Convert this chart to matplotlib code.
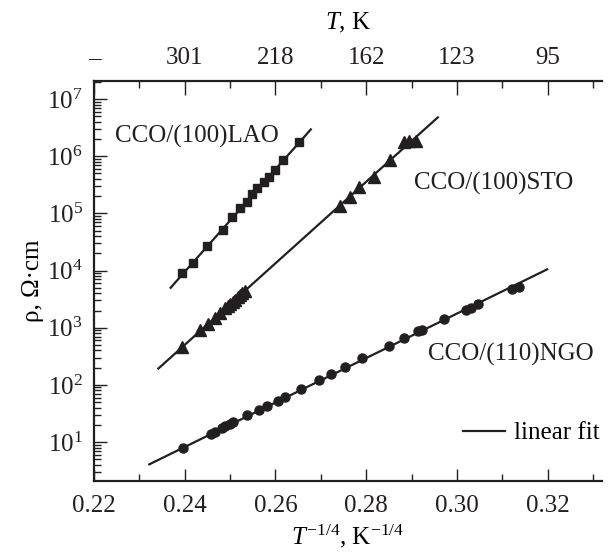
import numpy as np
import matplotlib
matplotlib.use("Agg")
import matplotlib.pyplot as plt
from matplotlib.lines import Line2D
from matplotlib.ticker import LogLocator, FixedLocator, NullFormatter

plt.rcParams['font.family'] = ['Liberation Serif', 'DejaVu Serif']
plt.rcParams['mathtext.fontset'] = 'custom'
plt.rcParams['mathtext.rm'] = 'Liberation Serif'
plt.rcParams['mathtext.it'] = 'Liberation Serif:italic'

INK = '#231f20'

# CCO/(100)LAO (squares)
lao_x = [0.2395, 0.2419, 0.2450, 0.2485, 0.2505, 0.2522, 0.2537, 0.2548,
         0.2559, 0.2574, 0.2585, 0.2598, 0.2616, 0.2652]
lao_rho = [8.9e3, 1.35e4, 2.7e4, 5.1e4, 8.5e4, 1.22e5, 1.61e5, 2.18e5,
           2.74e5, 3.58e5, 4.41e5, 5.73e5, 8.7e5, 1.75e6]
lao_fit_x = [0.2369, 0.2678]
lao_fit_rho = [5.0e3, 2.95e6]

# CCO/(100)STO (triangles)
sto_x = [0.2395, 0.2434, 0.2452, 0.2467, 0.2478, 0.2489, 0.2495, 0.2500,
         0.2506, 0.2511, 0.2517, 0.2522, 0.2527, 0.2532,
         0.2743, 0.2764, 0.2784, 0.2817, 0.2853, 0.2884, 0.2895, 0.2909]
sto_rho = [469, 929, 1183, 1507, 1806, 2183, 2395, 2596,
           2812, 3110, 3443, 3805, 4125, 4470,
           1.34e5, 1.97e5, 2.89e5, 4.38e5, 8.6e5, 1.77e6, 1.84e6, 1.88e6]
sto_fit_x = [0.2342, 0.2958]
sto_fit_rho = [193, 4.79e6]

# CCO/(110)NGO (circles)
ngo_x = [0.2396, 0.2459, 0.2466, 0.2482, 0.2488, 0.2500, 0.2506, 0.2537,
         0.2563, 0.2581, 0.2605, 0.2622, 0.2657, 0.2697, 0.2723, 0.2753,
         0.2791, 0.2851, 0.2884, 0.2915, 0.2922, 0.2971, 0.3021, 0.3030,
         0.3046, 0.3122, 0.3137]
ngo_rho = [7.8, 14.1, 15.0, 17.9, 19.1, 21.1, 22.1, 29.3,
           36.3, 43.5, 52.8, 62.5, 83.6, 122, 155, 203,
           298, 484, 668, 875, 929, 1402, 2080, 2254,
           2596, 4690, 5080]
ngo_fit_x = [0.2322, 0.3199]
ngo_fit_rho = [4.07, 1.05e4]

x_ticks = [0.22, 0.24, 0.26, 0.28, 0.30, 0.32]
x_labels = ['0.22', '0.24', '0.26', '0.28', '0.30', '0.32']
top_labels = ['\u2013', '301', '218', '162', '123', '95']

fig = plt.figure(figsize=(6.1, 5.52), dpi=100)
ax = fig.add_axes([0.154, 0.1286, 0.833, 0.7246])

lw = 1.6
ax.plot(lao_fit_x, lao_fit_rho, color=INK, lw=lw)
ax.plot(sto_fit_x, sto_fit_rho, color=INK, lw=lw)
ax.plot(ngo_fit_x, ngo_fit_rho, color=INK, lw=lw)
ax.plot(lao_x, lao_rho, 's', color=INK, ms=6, ls='none')
ax.plot(sto_x, sto_rho, '^', color=INK, ms=8, ls='none')
ax.plot(ngo_x, ngo_rho, 'o', color=INK, ms=6.5, ls='none')

ax.set_yscale('log')
ax.set_xlim(0.22, 0.332)
ax.set_ylim(2.08, 2.07e7)

ax.set_xticks(x_ticks, x_labels)
ax.xaxis.set_minor_locator(FixedLocator([0.23, 0.25, 0.27, 0.29, 0.31, 0.33]))
ax.yaxis.set_major_locator(LogLocator(base=10, numticks=20))
ax.yaxis.set_minor_locator(LogLocator(base=10, subs=np.arange(2, 10), numticks=20))
ax.yaxis.set_minor_formatter(NullFormatter())
ax.set_yticks([10.0 ** k for k in range(1, 8)],
              [r'$10^{%d}$' % k for k in range(1, 8)])

for s in ['top', 'right']:
    ax.spines[s].set_visible(False)
for s in ['left', 'bottom']:
    ax.spines[s].set_linewidth(1.6)
    ax.spines[s].set_color(INK)

ax.tick_params(which='both', direction='in', colors=INK, labelsize=18, width=1.0)
ax.tick_params(axis='x', which='major', length=9, pad=10)
ax.tick_params(axis='x', which='minor', length=5)
ax.tick_params(axis='y', which='major', length=9, pad=8)
ax.tick_params(axis='y', which='minor', length=5)

top = ax.secondary_xaxis('top')
top.set_xticks(x_ticks, top_labels)
top.xaxis.set_minor_locator(FixedLocator([0.23, 0.25, 0.27, 0.29, 0.31, 0.33]))
top.spines['top'].set_linewidth(1.6)
top.spines['top'].set_color(INK)
top.tick_params(which='both', direction='in', colors=INK, labelsize=18, width=1.0)
top.tick_params(which='major', length=10, pad=9)
top.tick_params(which='minor', length=5)
top.set_xlabel(r'$\mathit{T}$, K', fontsize=18, labelpad=12)

ax.set_xlabel(r'$\mathit{T}^{-1/4}$, K$^{-1/4}$', fontsize=18, labelpad=4)
ax.set_ylabel('\u03c1, \u03a9\u00b7cm', fontsize=18, labelpad=2)

ax.text(0.041, 0.8625, 'CCO/(100)LAO', transform=ax.transAxes,
        fontsize=18, va='center', ha='left', color=INK)
ax.text(0.630, 0.745, 'CCO/(100)STO', transform=ax.transAxes,
        fontsize=18, va='center', ha='left', color=INK)
ax.text(0.657, 0.3175, 'CCO/(110)NGO', transform=ax.transAxes,
        fontsize=18, va='center', ha='left', color=INK)

ax.legend(handles=[Line2D([], [], color=INK, lw=lw)], labels=['linear fit'],
          loc='center right', bbox_to_anchor=(0.995, 0.12), frameon=False,
          fontsize=18, handlelength=1.7, handletextpad=0.35,
          borderaxespad=0, borderpad=0)

fig.savefig('out.png', dpi=100)
